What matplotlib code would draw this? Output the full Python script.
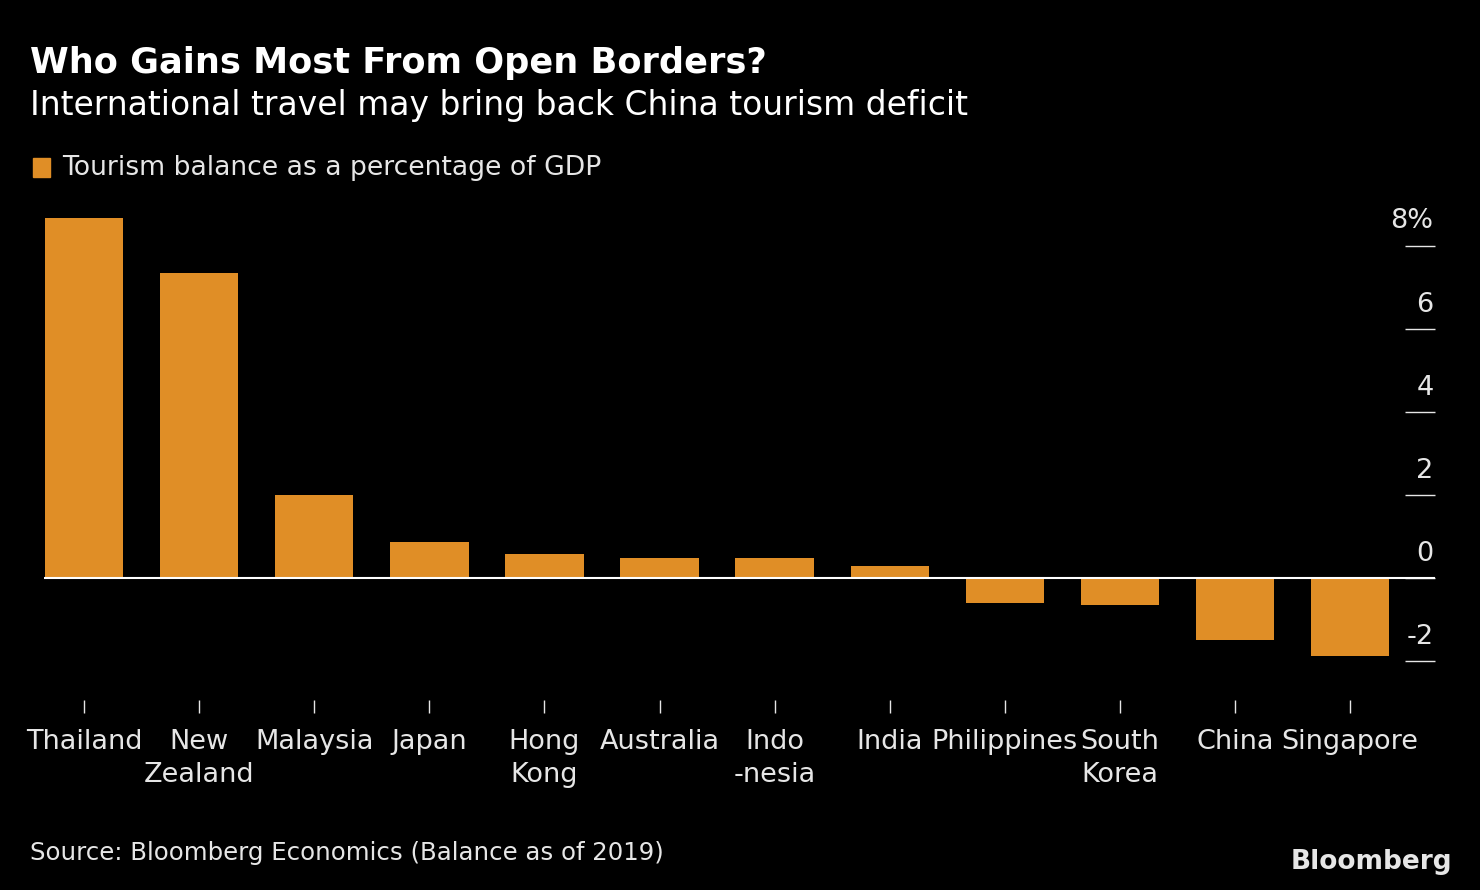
import matplotlib
matplotlib.use("Agg")
import matplotlib.pyplot as plt
from matplotlib.patches import Rectangle

countries = ["Thailand", "New\nZealand", "Malaysia", "Japan", "Hong\nKong", "Australia",
             "Indo\n-nesia", "India", "Philippines", "South\nKorea", "China", "Singapore"]
values = [8.67, 7.35, 2.0, 0.87, 0.58, 0.48, 0.48, 0.29, -0.6, -0.65, -1.5, -1.88]
yticks = [8, 6, 4, 2, 0, -2]
ylabels = ["8%", "6", "4", "2", "0", "-2"]

BG = "black"
ORANGE = "#E08E26"
FG = "#E6E6E6"
plt.rcParams['font.family'] = ['DejaVu Sans']

fig = plt.figure(figsize=(14.8, 8.9), dpi=100, facecolor=BG)
W, H = 1480, 890
ax = fig.add_axes([44 / W, 1 - 700 / H, (1435 - 44) / W, (700 - 200) / H], facecolor=BG)
x = list(range(len(countries)))
ax.bar(x, values, width=0.68, color=ORANGE, zorder=2)
ax.axhline(0, color="white", lw=1.5, zorder=3)
ax.set_xlim(-0.35, 11.74)
ax.set_ylim(-2.94, 9.1)
for s in ax.spines.values():
    s.set_visible(False)
ax.set_xticks(x)
ax.set_xticklabels(countries, color=FG, fontsize=19.5, linespacing=1.35)
ax.tick_params(axis="x", colors=FG, length=9, width=1, pad=12, labelcolor=FG)
ax.yaxis.tick_right()
ax.set_yticks(yticks)
ax.set_yticklabels([])
ax.tick_params(axis="y", direction="in", length=21.6, width=1, colors=FG)
for t, l in zip(yticks, ylabels):
    ax.text(0.999, t + 0.27, l, transform=ax.get_yaxis_transform(), ha="right", va="bottom",
            color=FG, fontsize=19.5)

fig.text(30 / W, 1 - 63 / H, "Who Gains Most From Open Borders?", color="white",
         fontsize=25.3, fontweight="bold", va="center")
fig.text(30 / W, 1 - 105 / H, "International travel may bring back China tourism deficit",
         color="white", fontsize=23.7, va="center")
fig.patches.append(Rectangle((33 / W, 1 - 177 / H), 17 / W, 19 / H, transform=fig.transFigure,
                             color=ORANGE))
fig.text(62 / W, 1 - 168 / H, "Tourism balance as a percentage of GDP", color=FG,
         fontsize=19.2, va="center")
fig.text(30 / W, 1 - 853 / H, "Source: Bloomberg Economics (Balance as of 2019)", color=FG,
         fontsize=17.6, va="center")
fig.text(1452 / W, 1 - 862 / H, "Bloomberg", color=FG, fontsize=19, fontweight="bold",
         ha="right", va="center")
fig.savefig("out.png", facecolor=BG)
